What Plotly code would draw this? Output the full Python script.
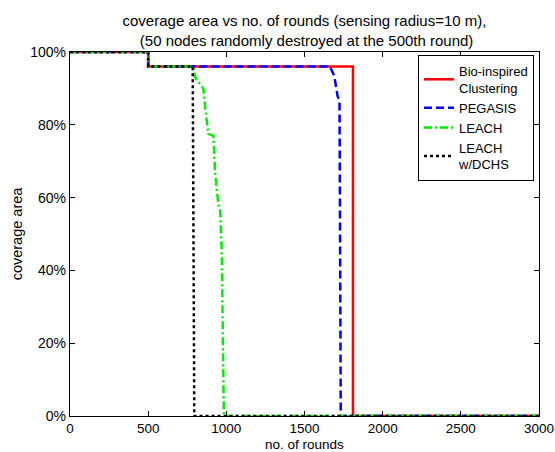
import plotly.graph_objects as go

# Bio-inspired Clustering
bio_x = [0, 500, 500, 1810, 1810, 3000]
bio_y = [100, 100, 96, 96, 0, 0]

# PEGASIS
peg_x = [0, 500, 500, 1662, 1690, 1711, 1724, 1732, 3000]
peg_y = [100, 100, 96, 96, 93.5, 88, 86.5, 0, 0]

# LEACH
leach_x = [0, 500, 500, 789, 800, 853, 864, 885, 917, 928, 949, 960, 971, 984, 3000]
leach_y = [100, 100, 96, 96, 93, 90, 85, 77.5, 77, 67, 58, 57, 45, 0, 0]

# LEACH w/DCHS
dchs_x = [0, 500, 500, 785, 795, 3000]
dchs_y = [100, 100, 96, 96, 0, 0]

x_ticks = [0, 500, 1000, 1500, 2000, 2500, 3000]
y_ticks = [0, 20, 40, 60, 80, 100]
y_tick_text = ["0%", "20%", "40%", "60%", "80%", "100%"]

FONT = "Liberation Sans, Arial, Helvetica, sans-serif"

fig = go.Figure()
fig.add_trace(go.Scatter(x=bio_x, y=bio_y, mode="lines", name="Bio-inspired<br>Clustering",
                         line=dict(color="#ff0000", width=2.5)))
fig.add_trace(go.Scatter(x=peg_x, y=peg_y, mode="lines", name="PEGASIS",
                         line=dict(color="#0000ff", width=2.5, dash="8px,4px")))
fig.add_trace(go.Scatter(x=leach_x, y=leach_y, mode="lines", name="LEACH",
                         line=dict(color="#00ee00", width=2.5, dash="8px,3px,2px,3px")))
fig.add_trace(go.Scatter(x=dchs_x, y=dchs_y, mode="lines", name="LEACH<br>w/DCHS",
                         line=dict(color="#000000", width=2.5, dash="3px,3px")))

axis_common = dict(showline=True, linecolor="black", linewidth=1.3, mirror="ticks",
                   ticks="inside", ticklen=5, tickcolor="black", showgrid=False,
                   zeroline=False, automargin=False, ticklabeloverflow="allow")

fig.update_layout(
    width=555, height=452,
    margin=dict(l=70, r=16, t=52, b=36),
    paper_bgcolor="white", plot_bgcolor="white",
    font=dict(family=FONT, size=14, color="black"),
    title=dict(text="coverage area vs no. of rounds (sensing radius=10 m),<br> (50 nodes randomly destroyed at the 500th round)",
               x=0.5, xref="paper", xanchor="center", y=1 - 26 / 452, yanchor="middle",
               font=dict(family=FONT, size=15, color="black")),
    xaxis=dict(range=[0, 3000], tickvals=x_ticks,
               tickfont=dict(family=FONT, size=13.5, color="black"), **axis_common),
    yaxis=dict(range=[0, 100], tickvals=y_ticks, ticktext=y_tick_text,
               tickfont=dict(family=FONT, size=14, color="black"),
               title=dict(text="coverage area", standoff=4, font=dict(family=FONT, size=14.5)),
               **axis_common),
    legend=dict(x=0.742, y=0.992, xanchor="left", yanchor="top",
                bgcolor="white", bordercolor="black", borderwidth=1,
                font=dict(family=FONT, size=13, color="black"),
                tracegroupgap=0, itemwidth=30),
    showlegend=True,
)

fig.add_annotation(text="no. of rounds", xref="paper", yref="paper", x=0.5, y=-28.5 / 364,
                   xanchor="center", yanchor="middle", showarrow=False, borderpad=0,
                   font=dict(family=FONT, size=13.5, color="black"))

fig.write_html("out.html")
